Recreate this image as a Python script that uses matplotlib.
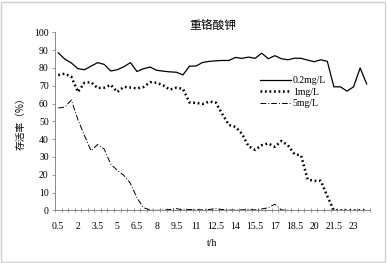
import numpy as np
from matplotlib import pyplot as plt
from matplotlib.patches import Rectangle

# time points 0.5 h .. 24 h (category axis)
times = [x * 0.5 for x in range(1, 49)]

low = [88.5, 85, 82.8, 79.6, 79, 81, 83, 82, 78.3, 79,
       80.7, 83, 78, 79.6, 80.5, 78.7, 78.2, 77.8, 77.6, 76.1,
       81, 81.1, 83.1, 83.7, 84, 84.2, 84.2, 85.9, 85.4, 86.1,
       85.4, 88.3, 85.2, 86.9, 85.2, 84.6, 85.5, 85.4, 84.4, 83.5,
       84.6, 83.7, 69.4, 69.4, 67, 69.4, 80, 71]

mid = [76, 76.8, 75, 66.5, 71.7, 72, 68.7, 68.9, 70.5, 66.5,
       69.4, 69, 68.5, 69.3, 72, 71.7, 70.2, 67.8, 68.9, 68.3,
       60.6, 60.4, 59.8, 61.1, 60.6, 54.1, 48, 46.9, 43, 36,
       34, 36.6, 37.6, 35.7, 39, 36.6, 31.6, 30.8, 17.4, 16.6,
       16.6, 8, 0, 0, 0, 0, 0, 0]

high = [57.5, 58, 62, 51, 42, 33.5, 37, 34.5, 26, 22.5,
        19.7, 15.2, 7, 1.5, 0.3, 0, 0.2, 0.5, 1, 0.3,
        0.5, 0.4, 0.3, 0.5, 1, 0.5, 0.2, 0.2, 0.3, 0.5,
        0.3, 0.8, 1.5, 3.5, 0.3, 0]

labels = ['0.2mg/L', '1mg/L', '5mg/L']
title = '重铬酸钾'


def main():
    plt.rcParams['font.family'] = ['Liberation Serif', 'Noto Sans CJK SC']
    fig = plt.figure(figsize=(3.87, 2.63), dpi=100)
    fig.patch.set_facecolor('white')
    fig.patches.append(Rectangle((0.002, 0.004), 0.994, 0.99, transform=fig.transFigure,
                                 fill=False, edgecolor='#d0d0d0', lw=1))
    ax = fig.add_axes([0.142, 0.2, 0.814, 0.677])

    x = np.arange(len(times))
    ax.plot(x, low, c='black', lw=0.9, label=labels[0])
    ax.plot(x, mid, c='black', lw=1.8, ls=(0, (0.7, 1.1)), label=labels[1])
    ax.plot(np.arange(len(high)), high, c='black', lw=0.7,
            ls=(0, (6, 2, 1, 2)), label=labels[2])

    ax.set_xlim(-0.5, len(times) - 0.5)
    ax.set_ylim(0, 100)
    ax.set_yticks(range(0, 101, 10))
    ax.set_xticks(x[::3])
    ax.set_xticklabels(['%g' % t for t in times[::3]])
    ax.set_xticks(np.arange(-0.5, len(times), 1), minor=True)
    ax.tick_params(axis='x', which='major', length=0, labelsize=7, pad=8)
    ax.tick_params(axis='x', which='minor', length=2.5, direction='inout',
                   color='#888888', width=0.6)
    ax.tick_params(axis='y', length=2.5, color='#888888', width=0.6,
                   labelsize=7, pad=2)

    for s in ['top', 'right']:
        ax.spines[s].set_visible(False)
    for s in ['left', 'bottom']:
        ax.spines[s].set_color('#888888')
        ax.spines[s].set_linewidth(0.7)

    ax.set_title(title, fontsize=8.5, family=['Noto Sans CJK SC'], pad=1)
    ax.set_xlabel('t/h', fontsize=7, labelpad=6)
    ax.set_ylabel('存活率（%）', fontsize=7, family=['Noto Sans CJK SC'], labelpad=6)

    ax.legend(loc='upper left', bbox_to_anchor=(0.635, 0.78), frameon=False,
              fontsize=7, handlelength=3.2, handletextpad=0.2,
              labelspacing=0.25, borderpad=0)

    fig.savefig('out.png', dpi=100)


main()
